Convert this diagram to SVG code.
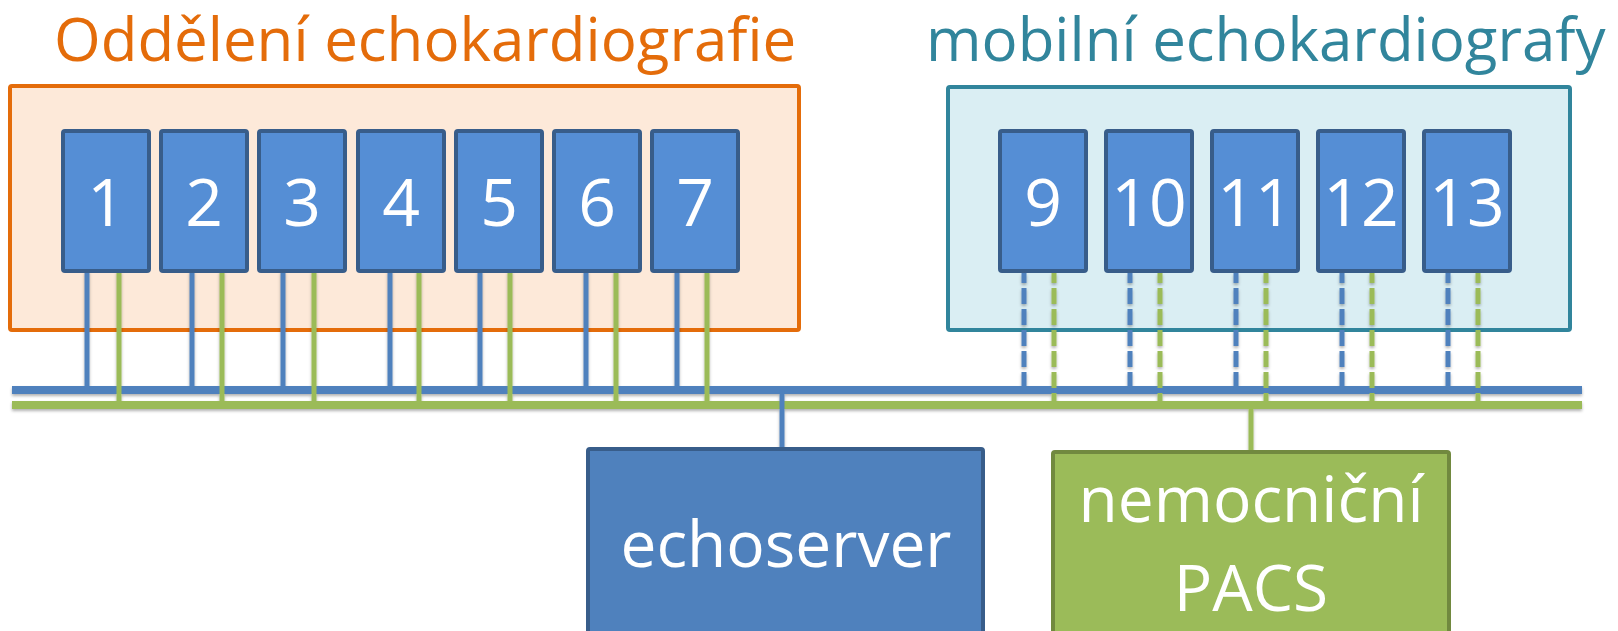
<svg xmlns="http://www.w3.org/2000/svg" width="1618" height="631" viewBox="0 0 1618 631">
<defs>
<filter id="sh" x="-20%" y="-20%" width="140%" height="140%">
<feDropShadow dx="0" dy="2" stdDeviation="1.5" flood-color="#000" flood-opacity="0.3"/>
</filter>
</defs>
<style>
.title{font-family:"Open Sans","Noto Sans",sans-serif;font-size:60px}
.grp-o{fill:#fde9d9;stroke:#e46c0a;stroke-width:4}
.grp-t{fill:#daeef3;stroke:#31859c;stroke-width:4}
.dev{fill:#558ed5;stroke:#385d8a;stroke-width:4}
.num{font-family:"Open Sans","Noto Sans",sans-serif;font-size:66px;fill:#fff;text-anchor:middle}
.lbl{font-family:"Open Sans","Noto Sans",sans-serif;font-size:64px;fill:#fff;text-anchor:middle}
.b{stroke:#4f81bd;stroke-width:5;fill:none}
.g{stroke:#9bbb59;stroke-width:5;fill:none}
.d{stroke-dasharray:16 5;stroke-dashoffset:6}
.bus-b{stroke:#4f81bd;stroke-width:8}
.bus-g{stroke:#9bbb59;stroke-width:8}
</style>
<rect id="white" width="1618" height="631" fill="#fff"/>
<g id="group-oddeleni">
<rect class="grp-o" x="10" y="86" width="789" height="244" rx="2"/>
<text class="title" x="54" y="61" fill="#e46c0a">Oddělení echokardiografie</text>
</g>
<g id="group-mobilni">
<rect class="grp-t" x="948" y="87" width="622" height="243" rx="2"/>
<text class="title" x="926" y="61" fill="#31859c">mobilní echokardiografy</text>
</g>
<g id="connectors">
<g filter="url(#sh)">
<line class="bus-b" x1="12" y1="390" x2="1582" y2="390"/>
<line class="bus-g" x1="12" y1="405" x2="1582" y2="405"/>
<path class="b" d="M87 271V390M192 271V390M283 271V390M390 271V390M480 271V390M586 271V390M677 271V390"/>
<path class="g" d="M119 271V405M222 271V405M314 271V405M419 271V405M510 271V405M616 271V405M707 271V405"/>
<path class="b d" d="M1024 273V390M1130 273V390M1236 273V390M1342 273V390M1448 273V390"/>
<path class="g d" d="M1054 273V405M1160 273V405M1266 273V405M1372 273V405M1478 273V405"/>
<path class="b" stroke-width="6" d="M782 390V449"/>
<path class="g" stroke-width="6" d="M1251 405V452"/>
</g>
</g>
<g id="n1"><rect class="dev" x="63" y="131" width="86" height="140" rx="2"/><text class="num" x="106" y="226">1</text></g>
<g id="n2"><rect class="dev" x="161" y="131" width="86" height="140" rx="2"/><text class="num" x="204" y="226">2</text></g>
<g id="n3"><rect class="dev" x="259" y="131" width="86" height="140" rx="2"/><text class="num" x="302" y="226">3</text></g>
<g id="n4"><rect class="dev" x="358" y="131" width="86" height="140" rx="2"/><text class="num" x="401" y="226">4</text></g>
<g id="n5"><rect class="dev" x="456" y="131" width="86" height="140" rx="2"/><text class="num" x="499" y="226">5</text></g>
<g id="n6"><rect class="dev" x="554" y="131" width="86" height="140" rx="2"/><text class="num" x="597" y="226">6</text></g>
<g id="n7"><rect class="dev" x="652" y="131" width="86" height="140" rx="2"/><text class="num" x="695" y="226">7</text></g>
<g id="n9"><rect class="dev" x="1000" y="131" width="86" height="140" rx="2"/><text class="num" x="1043" y="226">9</text></g>
<g id="n10"><rect class="dev" x="1106" y="131" width="86" height="140" rx="2"/><text class="num" x="1149" y="226">10</text></g>
<g id="n11"><rect class="dev" x="1212" y="131" width="86" height="140" rx="2"/><text class="num" x="1255" y="226">11</text></g>
<g id="n12"><rect class="dev" x="1318" y="131" width="86" height="140" rx="2"/><text class="num" x="1361" y="226">12</text></g>
<g id="n13"><rect class="dev" x="1424" y="131" width="86" height="140" rx="2"/><text class="num" x="1467" y="226">13</text></g>
<g id="echoserver">
<rect x="588" y="449" width="395" height="200" rx="2" fill="#4f81bd" stroke="#385d8a" stroke-width="4"/>
<text class="lbl" x="786" y="567">echoserver</text>
</g>
<g id="pacs">
<rect x="1053" y="452" width="396" height="200" rx="2" fill="#9bbb59" stroke="#71893f" stroke-width="4"/>
<text class="lbl" x="1251" y="522">nemocniční</text>
<text class="lbl" x="1251" y="611">PACS</text>
</g>
</svg>
